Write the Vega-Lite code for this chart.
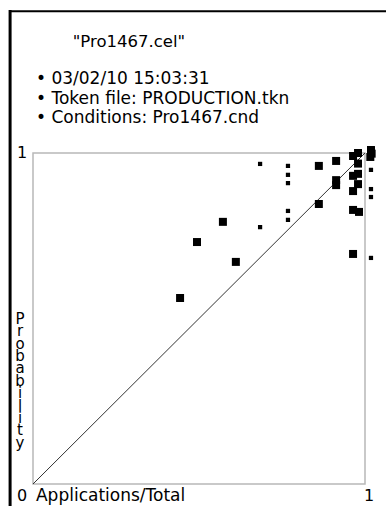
{
  "$schema": "https://vega.github.io/schema/vega-lite/v6.json",
  "width": 332,
  "height": 331,
  "autosize": {"type": "none"},
  "padding": {"left": 33, "top": 153, "right": 21, "bottom": 22},
  "background": "white",
  "config": {"view": {"stroke": "#b8b8b8", "strokeWidth": 1.5}},
  "data": {"values": [{}]},
  "datasets": {
    "points": [
      {"ratio": 0.684, "prob": 0.967, "weight": "low"},
      {"ratio": 0.768, "prob": 0.961, "weight": "low"},
      {"ratio": 0.768, "prob": 0.934, "weight": "low"},
      {"ratio": 0.768, "prob": 0.909, "weight": "low"},
      {"ratio": 0.861, "prob": 0.961, "weight": "high"},
      {"ratio": 0.913, "prob": 0.976, "weight": "high"},
      {"ratio": 0.964, "prob": 0.991, "weight": "high"},
      {"ratio": 0.979, "prob": 1.0, "weight": "high"},
      {"ratio": 1.018, "prob": 1.009, "weight": "high"},
      {"ratio": 1.02, "prob": 0.998, "weight": "high"},
      {"ratio": 1.016, "prob": 0.988, "weight": "high"},
      {"ratio": 0.979, "prob": 0.968, "weight": "high"},
      {"ratio": 0.964, "prob": 0.931, "weight": "high"},
      {"ratio": 0.979, "prob": 0.937, "weight": "high"},
      {"ratio": 0.913, "prob": 0.918, "weight": "high"},
      {"ratio": 0.913, "prob": 0.903, "weight": "high"},
      {"ratio": 0.979, "prob": 0.906, "weight": "high"},
      {"ratio": 0.964, "prob": 0.885, "weight": "high"},
      {"ratio": 1.018, "prob": 0.949, "weight": "low"},
      {"ratio": 1.018, "prob": 0.891, "weight": "low"},
      {"ratio": 1.018, "prob": 0.867, "weight": "low"},
      {"ratio": 0.861, "prob": 0.846, "weight": "high"},
      {"ratio": 0.768, "prob": 0.825, "weight": "low"},
      {"ratio": 0.768, "prob": 0.798, "weight": "low"},
      {"ratio": 0.964, "prob": 0.828, "weight": "high"},
      {"ratio": 0.982, "prob": 0.822, "weight": "high"},
      {"ratio": 0.572, "prob": 0.792, "weight": "high"},
      {"ratio": 0.684, "prob": 0.776, "weight": "low"},
      {"ratio": 0.494, "prob": 0.731, "weight": "high"},
      {"ratio": 0.611, "prob": 0.671, "weight": "high"},
      {"ratio": 0.964, "prob": 0.695, "weight": "high"},
      {"ratio": 1.018, "prob": 0.683, "weight": "low"},
      {"ratio": 0.443, "prob": 0.562, "weight": "high"}
    ],
    "diagonal": [
      {"ratio": 0, "prob": 0},
      {"ratio": 1, "prob": 1}
    ]
  },
  "layer": [
    {
      "mark": {"type": "rule", "color": "black", "strokeWidth": 3, "clip": false},
      "encoding": {
        "x": {"datum": -0.069, "type": "quantitative", "scale": {"domain": [0, 1], "nice": false, "zero": false}, "axis": null},
        "y": {"datum": -0.1, "type": "quantitative", "scale": {"domain": [0, 1], "nice": false, "zero": false}, "axis": null},
        "y2": {"datum": 1.432}
      }
    },
    {
      "mark": {"type": "rule", "color": "black", "strokeWidth": 2, "clip": false},
      "encoding": {
        "x": {"datum": -0.072, "type": "quantitative"},
        "x2": {"datum": 1.1},
        "y": {"datum": 1.428, "type": "quantitative"}
      }
    },
    {
      "data": {"name": "diagonal"},
      "mark": {"type": "line", "color": "#333333", "strokeWidth": 1},
      "encoding": {
        "x": {"field": "ratio", "type": "quantitative"},
        "y": {"field": "prob", "type": "quantitative"}
      }
    },
    {
      "data": {"name": "points"},
      "mark": {"type": "square", "filled": true, "color": "black", "opacity": 1, "clip": false},
      "encoding": {
        "x": {"field": "ratio", "type": "quantitative"},
        "y": {"field": "prob", "type": "quantitative"},
        "size": {"field": "weight", "type": "nominal", "scale": {"domain": ["low", "high"], "range": [18, 64]}, "legend": null}
      }
    },
    {
      "mark": {"type": "text", "font": "DejaVu Sans", "fontSize": 16.5, "align": "center", "baseline": "middle", "color": "black", "clip": false},
      "encoding": {
        "x": {"datum": 0.289, "type": "quantitative"},
        "y": {"datum": 1.335, "type": "quantitative"},
        "text": {"value": "\"Pro1467.cel\""}
      }
    },
    {
      "mark": {"type": "text", "font": "DejaVu Sans", "fontSize": 17, "align": "left", "baseline": "middle", "color": "black", "clip": false},
      "encoding": {
        "x": {"datum": 0.009, "type": "quantitative"},
        "y": {"datum": 1.224, "type": "quantitative"},
        "text": {"value": "• 03/02/10 15:03:31"}
      }
    },
    {
      "mark": {"type": "text", "font": "DejaVu Sans", "fontSize": 17, "align": "left", "baseline": "middle", "color": "black", "clip": false},
      "encoding": {
        "x": {"datum": 0.009, "type": "quantitative"},
        "y": {"datum": 1.163, "type": "quantitative"},
        "text": {"value": "• Token file: PRODUCTION.tkn"}
      }
    },
    {
      "mark": {"type": "text", "font": "DejaVu Sans", "fontSize": 17, "align": "left", "baseline": "middle", "color": "black", "clip": false},
      "encoding": {
        "x": {"datum": 0.009, "type": "quantitative"},
        "y": {"datum": 1.106, "type": "quantitative"},
        "text": {"value": "• Conditions: Pro1467.cnd"}
      }
    },
    {
      "mark": {"type": "text", "font": "DejaVu Sans", "fontSize": 16, "align": "center", "baseline": "middle", "color": "black", "clip": false},
      "encoding": {
        "x": {"datum": -0.033, "type": "quantitative"},
        "y": {"datum": 1.0, "type": "quantitative"},
        "text": {"value": "1"}
      }
    },
    {
      "mark": {"type": "text", "font": "DejaVu Sans", "fontSize": 16, "align": "center", "baseline": "middle", "color": "black", "clip": false},
      "encoding": {
        "x": {"datum": -0.033, "type": "quantitative"},
        "y": {"datum": -0.035, "type": "quantitative"},
        "text": {"value": "0"}
      }
    },
    {
      "mark": {"type": "text", "font": "DejaVu Sans", "fontSize": 17, "align": "left", "baseline": "middle", "color": "black", "clip": false},
      "encoding": {
        "x": {"datum": 0.009, "type": "quantitative"},
        "y": {"datum": -0.035, "type": "quantitative"},
        "text": {"value": "Applications/Total"}
      }
    },
    {
      "mark": {"type": "text", "font": "DejaVu Sans", "fontSize": 16, "align": "center", "baseline": "middle", "color": "black", "clip": false},
      "encoding": {
        "x": {"datum": 1.012, "type": "quantitative"},
        "y": {"datum": -0.035, "type": "quantitative"},
        "text": {"value": "1"}
      }
    },
    {
      "mark": {"type": "text", "font": "DejaVu Sans", "fontSize": 15, "align": "center", "baseline": "top", "lineBreak": "\n", "lineHeight": 12.4, "color": "black", "clip": false},
      "encoding": {
        "x": {"datum": -0.039, "type": "quantitative"},
        "y": {"datum": 0.52, "type": "quantitative"},
        "text": {"value": "P\nr\no\nb\na\nb\ni\nl\ni\nt\ny"}
      }
    }
  ]
}
